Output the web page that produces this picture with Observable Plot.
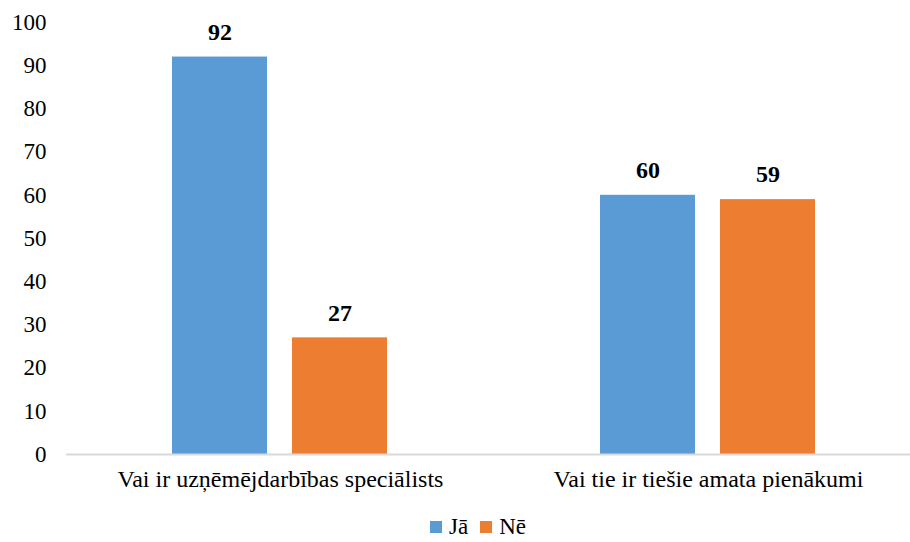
<!DOCTYPE html>
<html>
<head>
<meta charset="utf-8">
<script src="https://cdn.jsdelivr.net/npm/d3@7"></script>
<script src="https://cdn.jsdelivr.net/npm/@observablehq/plot@0.6"></script>
<style>
  body { margin: 0; background: #fff; font-family: 'Liberation Serif', 'DejaVu Serif', serif; }
  #legend { display: flex; justify-content: center; gap: 12px; font-size: 23px; color: #000; margin-top: 14px; padding-left: 46px; font-family: 'Liberation Serif', 'DejaVu Serif', serif; }
  #legend span.item { display: inline-flex; align-items: center; gap: 7px; }
  #legend span.sw { width: 12px; height: 12px; display: inline-block; }
  #chart svg text { font-family: 'Liberation Serif', 'DejaVu Serif', serif; }
</style>
</head>
<body>
<div id="chart"></div>
<script>
const categories = ["Vai ir uzņēmējdarbības speciālists", "Vai tie ir tiešie amata pienākumi"];
const series = ["Jā", "Nē"];
const valuesJa = [92, 60];
const valuesNe = [27, 59];
const colors = ["#5B9BD5", "#ED7D31"];
const yTicks = [0, 10, 20, 30, 40, 50, 60, 70, 80, 90, 100];

const data = [];
categories.forEach((c, i) => {
  data.push({cat: c, s: series[0], v: valuesJa[i]});
  data.push({cat: c, s: series[1], v: valuesNe[i]});
});

const plot = Plot.plot({
  width: 910,
  height: 500,
  marginLeft: 65,
  marginRight: -12,
  marginTop: 22,
  marginBottom: 46,
  style: {fontFamily: "'Liberation Serif', 'DejaVu Serif', serif", fontSize: "23px", color: "#000", background: "#fff"},
  fx: {domain: categories, padding: 0, label: null},
  x: {domain: series, paddingInner: 0.2066, paddingOuter: 0.874, axis: null},
  y: {domain: [0, 100], ticks: yTicks, label: null},
  color: {domain: series, range: colors},
  marks: [
    Plot.barY(data, {fx: "cat", x: "s", y: "v", fill: "s"}),
    Plot.ruleY([0], {stroke: "#d9d9d9", strokeWidth: 2}),
    Plot.text(data, {fx: "cat", x: "s", y: "v", text: d => String(d.v), dy: -25, fontWeight: "bold", fontSize: 24, fill: "#000"}),
    Plot.axisY({ticks: yTicks, tickSize: 0, tickPadding: 20, fontSize: 23, label: null}),
    Plot.axisFx({anchor: "bottom", tickSize: 0, tickPadding: 15, fontSize: 24, label: null})
  ]
});
document.getElementById("chart").appendChild(plot);

const legend = document.createElement("div");
legend.id = "legend";
series.forEach((s, i) => {
  const item = document.createElement("span");
  item.className = "item";
  const sw = document.createElement("span");
  sw.className = "sw";
  sw.style.background = colors[i];
  item.appendChild(sw);
  item.appendChild(document.createTextNode(s));
  legend.appendChild(item);
});
document.body.appendChild(legend);
</script>
</body>
</html>
